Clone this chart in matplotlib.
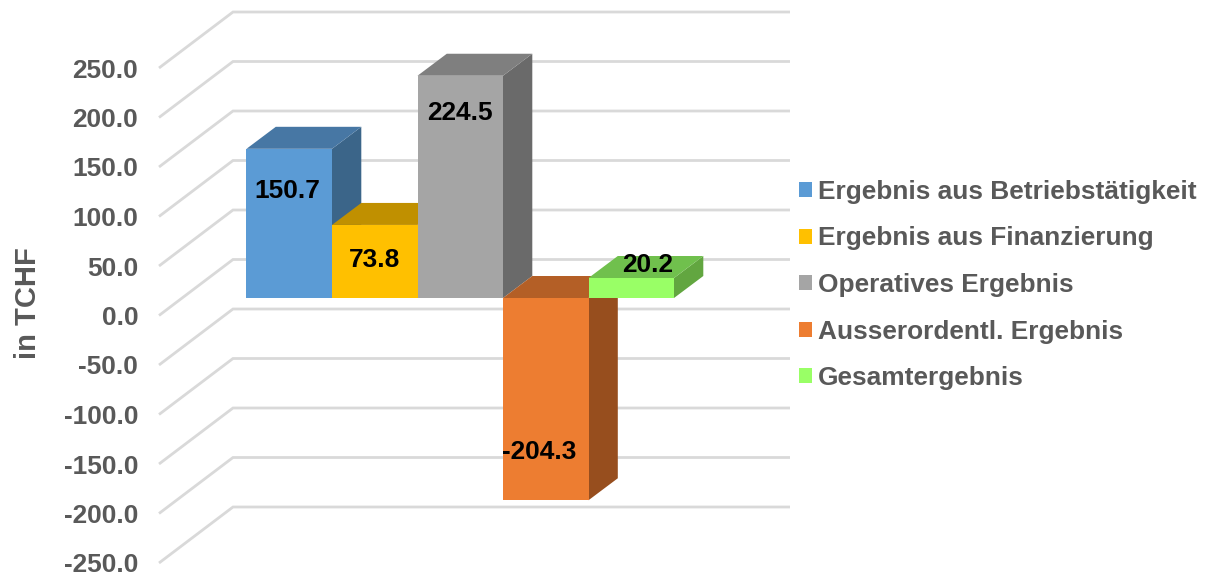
import matplotlib
matplotlib.use("Agg")
import matplotlib.pyplot as plt
from matplotlib.patches import Patch, Polygon

plt.rcParams['font.family'] = ['Liberation Sans', 'DejaVu Sans']
plt.rcParams['font.weight'] = 'bold'

categories = ["Ergebnis aus Betriebstätigkeit", "Ergebnis aus Finanzierung",
              "Operatives Ergebnis", "Ausserordentl. Ergebnis", "Gesamtergebnis"]
values = [150.7, 73.8, 224.5, -204.3, 20.2]
value_labels = ["150.7", "73.8", "224.5", "-204.3", "20.2"]
axis_ticks = [250, 200, 150, 100, 50, 0, -50, -100, -150, -200, -250]
axis_title = "in TCHF"

front_colors = ["#5B9BD5", "#FFC000", "#A5A5A5", "#ED7D31", "#99FF66"]
top_colors = ["#4777A4", "#C09000", "#7F7F7F", "#B45F26", "#70C04D"]
side_colors = ["#3B6589", "#9E7700", "#6A6A6A", "#974E1E", "#62A640"]
label_offsets_px = [(-2, -42), (0, -35), (0, -37), (-7, 48), (16, 13)]

W, H = 1206, 576
PX_PER_UNIT = 0.99
GRID = "#D9D9D9"
TEXT = "#595959"
FS = 18.9

fig = plt.figure(figsize=(W / 100, H / 100), dpi=100)
fig.patch.set_facecolor("white")

# Wall: y axis on the front edge of the floor, gridlines run to the back wall
wall = fig.add_axes([159 / W, 0, (790 - 159) / W, 1])
wall.set_xlim(0, 790 - 159)
y0 = 315.5
wall.set_ylim((y0 - H) / PX_PER_UNIT, y0 / PX_PER_UNIT)
rise = 56 / PX_PER_UNIT
for t in axis_ticks:
    wall.plot([0, 74, 631], [t, t + rise, t + rise], color=GRID, lw=2.0,
              solid_joinstyle="miter", solid_capstyle="butt", clip_on=False)
wall.set_xticks([])
wall.set_yticks(axis_ticks)
wall.set_yticklabels([f"{t:.1f}" for t in axis_ticks], fontsize=FS,
                     color=TEXT, fontweight="bold")
wall.tick_params(axis="y", length=0, pad=15)
for lab in wall.get_yticklabels():
    lab.set_y(lab.get_position()[1])
for s in wall.spines.values():
    s.set_visible(False)
wall.patch.set_alpha(0)
wall.set_ylabel(axis_title, fontsize=21, color=TEXT, fontweight="bold")
wall.yaxis.set_label_coords(41.5 / W, 1 - 303 / H, transform=fig.transFigure)

# Bars: one unit on x is one bar width
BAR_W = 85.5
x_left = 246.5
base_y = 298
ax = fig.add_axes([0, 0, 1, 1])
ax.set_xlim(-x_left / BAR_W, (W - x_left) / BAR_W)
ax.set_ylim((base_y - H) / PX_PER_UNIT, base_y / PX_PER_UNIT)
ax.axis("off")
dx = 29.3 / BAR_W
dy = 22 / PX_PER_UNIT

for i, v in enumerate(values):
    hi = max(v, 0)
    lo = min(v, 0)
    ax.add_patch(Polygon([(i + 1, lo), (i + 1 + dx, lo + dy), (i + 1 + dx, hi + dy), (i + 1, hi)],
                         closed=True, facecolor=side_colors[i], edgecolor="none", zorder=2 + i))
    ax.add_patch(Polygon([(i, hi), (i + dx, hi + dy), (i + 1 + dx, hi + dy), (i + 1, hi)],
                         closed=True, facecolor=top_colors[i], edgecolor="none", zorder=2 + i))
    ax.bar(i, v, width=1, align="edge", color=front_colors[i], zorder=2 + i)

for i, v in enumerate(values):
    ox, oy = label_offsets_px[i]
    ax.annotate(value_labels[i], xy=(i + 0.5, v), xytext=(ox * 0.72, oy * 0.72),
                textcoords="offset points", ha="center", va="center",
                fontsize=FS, fontweight="bold", color="black", zorder=20)

handles = [Patch(facecolor=c, edgecolor="none") for c in front_colors]
fig.legend(handles, categories, loc="center left",
           bbox_to_anchor=(799 / W, 1 - 285 / H), bbox_transform=fig.transFigure,
           frameon=False, fontsize=FS, labelcolor=TEXT, borderpad=0, borderaxespad=0,
           handlelength=0.5, handleheight=0.5, handletextpad=0.23, labelspacing=0.86)

fig.savefig("out.png", dpi=100)
